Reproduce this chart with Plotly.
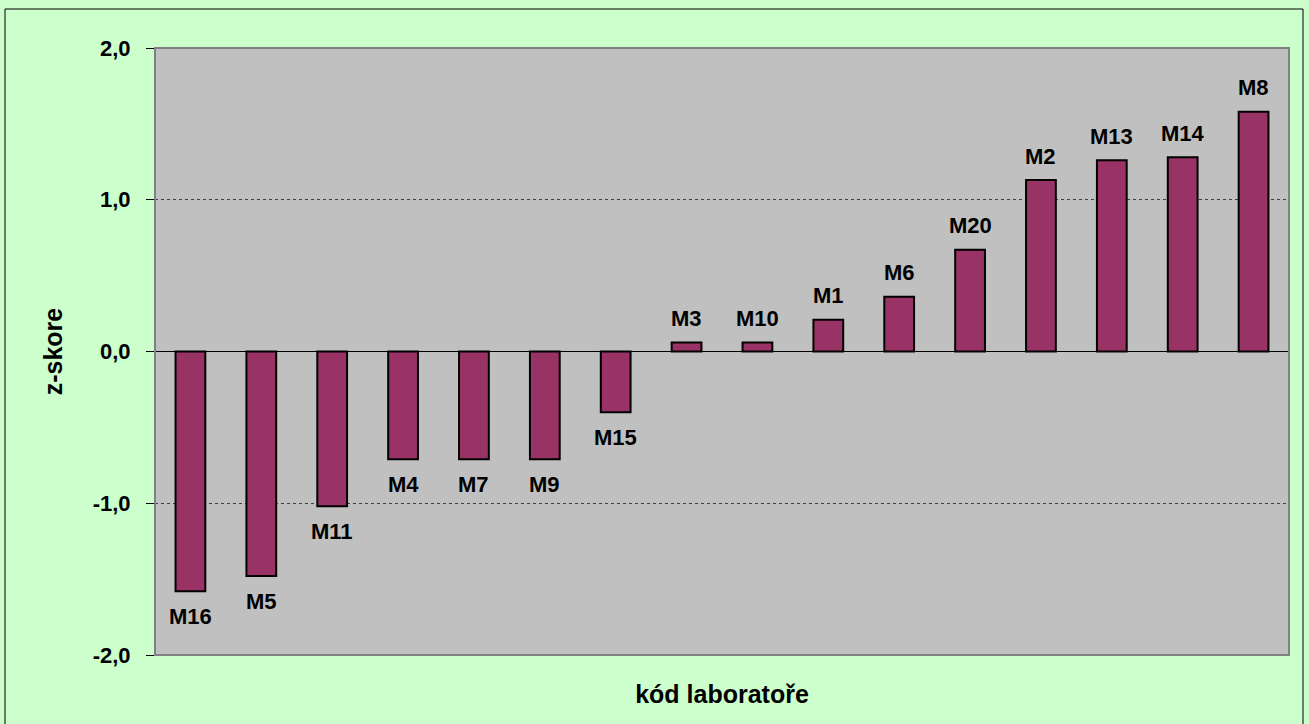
import plotly.graph_objects as go

labs = ["M16", "M5", "M11", "M4", "M7", "M9", "M15", "M3", "M10", "M1", "M6", "M20", "M2", "M13", "M14", "M8"]
zscore = [-1.58, -1.48, -1.02, -0.71, -0.71, -0.71, -0.40, 0.06, 0.06, 0.21, 0.36, 0.67, 1.13, 1.26, 1.28, 1.58]
yticks = [-2.0, -1.0, 0.0, 1.0, 2.0]
yticktext = ["-2,0", "-1,0", "0,0", "1,0", "2,0"]

W, H = 1309, 724
L, R, T, B = 155, 20, 48, 69
FONT = "Arial, Liberation Sans, sans-serif"

fig = go.Figure()
fig.add_trace(go.Bar(
    x=labs, y=zscore,
    marker=dict(color="#993366", line=dict(color="black", width=2)),
    width=0.42,
    hoverinfo="x+y",
))

for lab, v in zip(labs, zscore):
    fig.add_annotation(x=lab, y=v, text="<b>%s</b>" % lab, showarrow=False,
                       yshift=(24 if v >= 0 else -25),
                       font=dict(family=FONT, size=22, color="black"))

pw = W - L - R
ph = H - T - B
# outer chart border
fig.add_shape(type="rect", xref="paper", yref="paper",
              x0=(5 - L) / pw, x1=(W - 6 - L) / pw,
              y0=-(H + 5 - T - ph) / ph, y1=1 + (T - 9) / ph,
              line=dict(color="black", width=1), layer="below")
# plot area border
fig.add_shape(type="rect", xref="paper", yref="paper", x0=0, x1=1, y0=0, y1=1,
              line=dict(color="#808080", width=2), layer="above")

fig.update_layout(
    width=W, height=H,
    margin=dict(l=L, r=R, t=T, b=B),
    paper_bgcolor="#CCFFCC",
    plot_bgcolor="#C0C0C0",
    showlegend=False,
    font=dict(family=FONT, color="black"),
    xaxis=dict(
        showticklabels=False, ticks="", showgrid=False, zeroline=False,
        range=[-0.5, len(labs) - 0.5],
        title=dict(text="<b>kód laboratoře</b>", font=dict(family=FONT, size=25), standoff=30),
    ),
    yaxis=dict(
        range=[-2.0, 2.0], tickvals=yticks, ticktext=yticktext,
        ticks="outside", ticklen=8, tickcolor="black",
        ticklabelstandoff=11,
        tickfont=dict(family=FONT, size=22, weight="bold"),
        showline=True, linecolor="black", linewidth=1,
        showgrid=True, gridcolor="#404040", griddash="dot", gridwidth=1,
        zeroline=True, zerolinecolor="black", zerolinewidth=1,
        title=dict(text="<b>z-skore</b>", font=dict(family=FONT, size=25), standoff=22),
    ),
)

fig.write_html("out.html", config={"displayModeBar": False},
               post_script="document.body.style.margin='0';document.body.style.overflow='hidden';")
